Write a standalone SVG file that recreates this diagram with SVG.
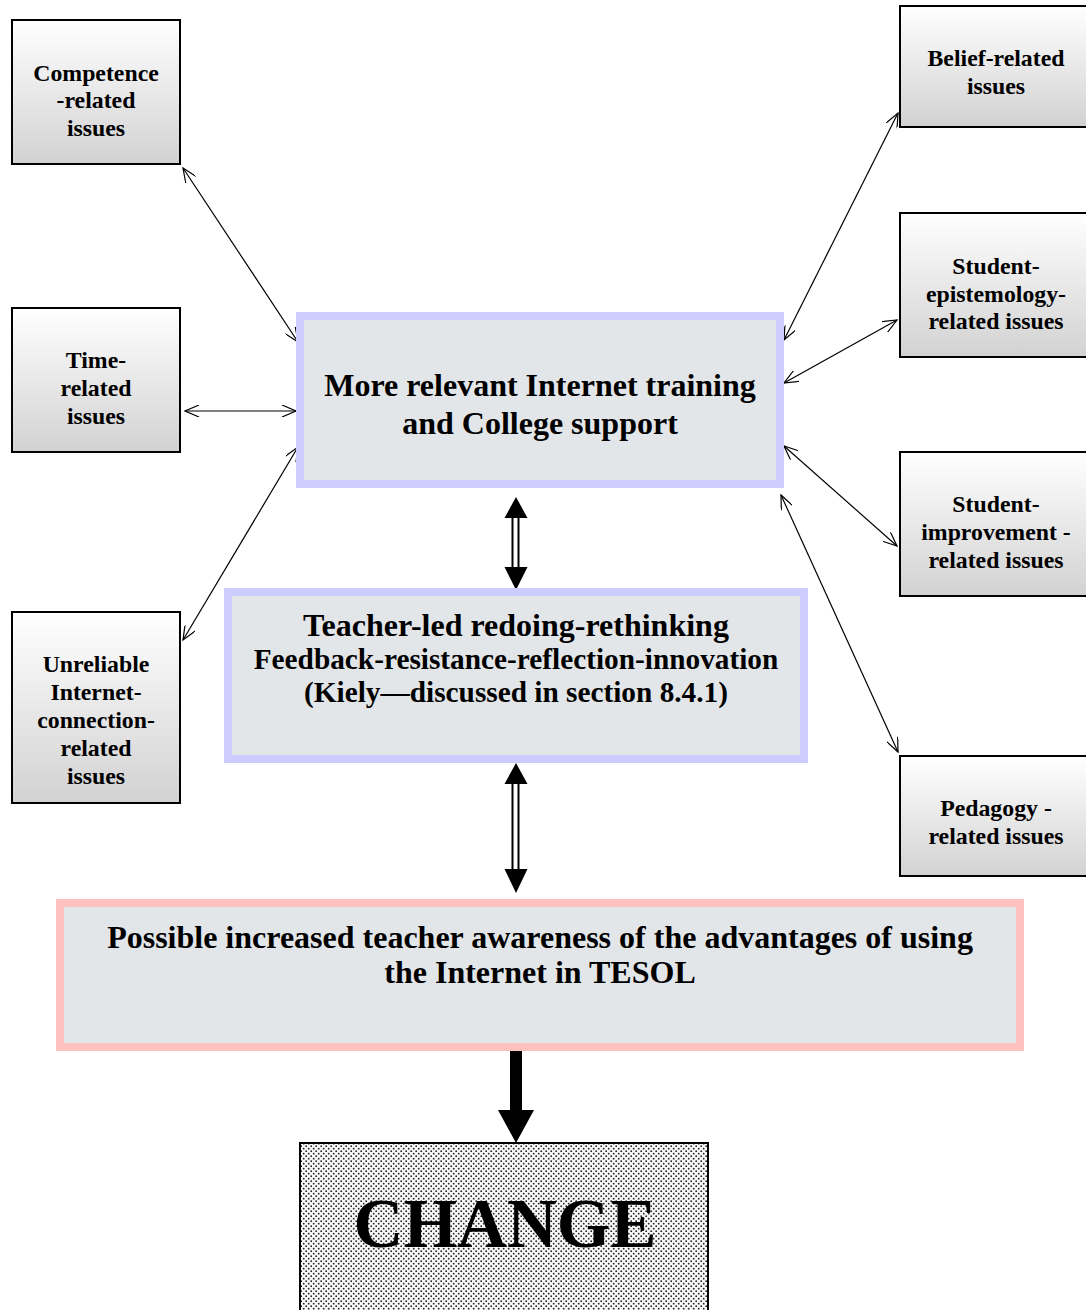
<svg xmlns="http://www.w3.org/2000/svg" width="1086" height="1310" viewBox="0 0 1086 1310">
<style>
.side{stroke:#000;stroke-width:2;fill:url(#g)}
.st{font-family:"Liberation Serif","Times New Roman",serif;font-weight:bold;font-size:23.8px;text-anchor:middle;fill:#000}
.mt{font-family:"Liberation Serif","Times New Roman",serif;font-weight:bold;text-anchor:middle;fill:#000}
.blue{fill:#e3e6e8;stroke:#ccccff;stroke-width:8}
.pink{fill:#e3e6e8;stroke:#ffc0c0;stroke-width:8}
.thin{stroke:#000;stroke-width:1.2;fill:none;marker-start:url(#v);marker-end:url(#v)}
</style>
<defs>
<linearGradient id="g" x1="0" y1="0" x2="0" y2="1">
<stop offset="0" stop-color="#ffffff"/>
<stop offset="1" stop-color="#d2d2d2"/>
</linearGradient>
<pattern id="dots" width="5" height="5" patternUnits="userSpaceOnUse">
<rect width="5" height="5" fill="#f8f8f8"/>
<circle cx="1.2" cy="1.2" r="0.9" fill="#222"/>
<circle cx="3.7" cy="3.7" r="0.9" fill="#222"/>
</pattern>
<marker id="v" viewBox="0 0 16 12" refX="15" refY="6" markerWidth="16" markerHeight="12" markerUnits="userSpaceOnUse" orient="auto-start-reverse">
<path d="M1,0 L15,6 L1,12" fill="none" stroke="#000" stroke-width="1.2"/>
</marker>
</defs>

<g id="connectors">
<line class="thin" x1="183" y1="168" x2="298" y2="342"/>
<line class="thin" x1="185" y1="411" x2="296" y2="411"/>
<line class="thin" x1="183" y1="640" x2="298" y2="447"/>
<line class="thin" x1="898" y1="113" x2="784" y2="340"/>
<line class="thin" x1="897" y1="320" x2="784" y2="383"/>
<line class="thin" x1="784" y1="446" x2="897" y2="546"/>
<line class="thin" x1="781" y1="495" x2="898" y2="752"/>
<g id="dbl1">
<rect x="512.5" y="516" width="6" height="53" fill="#fff" stroke="#000" stroke-width="2"/>
<polygon points="516,497 504.5,518 527.5,518" fill="#000"/>
<polygon points="516,590 504.5,567 527.5,567" fill="#000"/>
</g>
<g id="dbl2">
<rect x="512.5" y="781" width="6" height="90" fill="#fff" stroke="#000" stroke-width="2"/>
<polygon points="516,763 504.5,784 527.5,784" fill="#000"/>
<polygon points="516,893 504.5,869 527.5,869" fill="#000"/>
</g>
<g id="big">
<rect x="510" y="1047" width="12" height="64" fill="#000"/>
<polygon points="498,1110 534,1110 516,1143" fill="#000"/>
</g>
</g>

<g id="competence">
<rect class="side" x="12" y="20" width="168" height="144"/>
<text class="st" x="96" y="81">Competence</text>
<text class="st" x="96" y="108">-related</text>
<text class="st" x="96" y="136">issues</text>
</g>
<g id="time">
<rect class="side" x="12" y="308" width="168" height="144"/>
<text class="st" x="96" y="368">Time-</text>
<text class="st" x="96" y="396">related</text>
<text class="st" x="96" y="424">issues</text>
</g>
<g id="unreliable">
<rect class="side" x="12" y="612" width="168" height="191"/>
<text class="st" x="96" y="672">Unreliable</text>
<text class="st" x="96" y="700">Internet-</text>
<text class="st" x="96" y="728">connection-</text>
<text class="st" x="96" y="756">related</text>
<text class="st" x="96" y="784">issues</text>
</g>
<g id="belief">
<rect class="side" x="900" y="6" width="192" height="121"/>
<text class="st" x="996" y="66">Belief-related</text>
<text class="st" x="996" y="94">issues</text>
</g>
<g id="epistemology">
<rect class="side" x="900" y="213" width="192" height="144"/>
<text class="st" x="996" y="274">Student-</text>
<text class="st" x="996" y="302">epistemology-</text>
<text class="st" x="996" y="329">related issues</text>
</g>
<g id="improvement">
<rect class="side" x="900" y="452" width="192" height="144"/>
<text class="st" x="996" y="512">Student-</text>
<text class="st" x="996" y="540">improvement -</text>
<text class="st" x="996" y="568">related issues</text>
</g>
<g id="pedagogy">
<rect class="side" x="900" y="756" width="192" height="120"/>
<text class="st" x="996" y="816">Pedagogy -</text>
<text class="st" x="996" y="844">related issues</text>
</g>

<g id="training">
<rect class="blue" x="300" y="316" width="480" height="168"/>
<text class="mt" font-size="32" x="540" y="396">More relevant Internet training</text>
<text class="mt" font-size="32" x="540" y="434">and College support</text>
</g>
<g id="teacher">
<rect class="blue" x="228" y="592" width="576" height="167"/>
<text class="mt" font-size="32" x="516" y="636">Teacher-led redoing-rethinking</text>
<text class="mt" font-size="29.3" x="516" y="669">Feedback-resistance-reflection-innovation</text>
<text class="mt" font-size="29.3" x="516" y="702">(Kiely—discussed in section 8.4.1)</text>
</g>
<g id="awareness">
<rect class="pink" x="60" y="903" width="960" height="144"/>
<text class="mt" font-size="32" x="540" y="948">Possible increased teacher awareness of the advantages of using</text>
<text class="mt" font-size="32" x="540" y="983">the Internet in TESOL</text>
</g>
<g id="change">
<rect x="300" y="1143" width="408" height="180" fill="url(#dots)" stroke="#000" stroke-width="2"/>
<text class="mt" font-size="69" x="505" y="1247">CHANGE</text>
</g>
</svg>
